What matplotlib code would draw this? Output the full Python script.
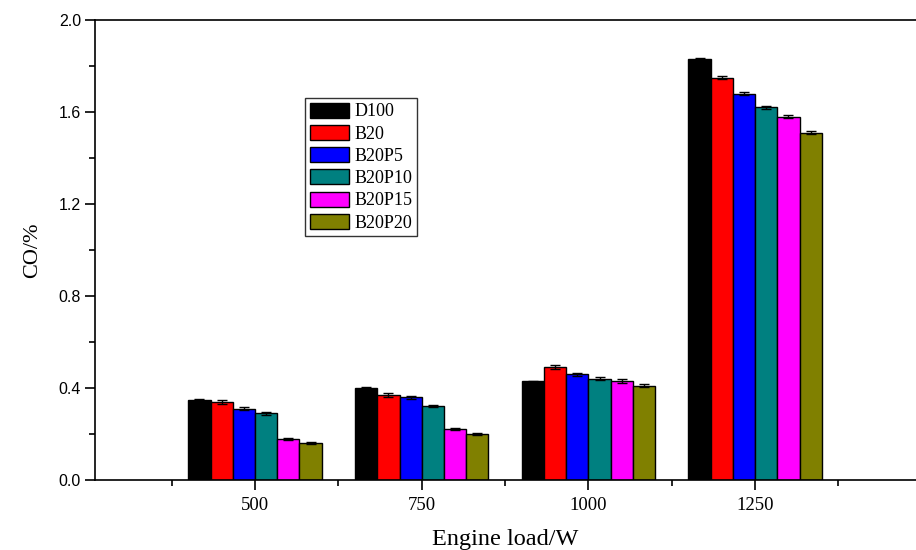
import matplotlib
matplotlib.use("Agg")
import matplotlib.pyplot as plt
import numpy as np
from matplotlib.ticker import MultipleLocator, FixedLocator

loads = ["500", "750", "1000", "1250"]
fuels = ["D100", "B20", "B20P5", "B20P10", "B20P15", "B20P20"]
colors = ["#000000", "#FF0000", "#0000FF", "#008080", "#FF00FF", "#808000"]

# CO emission (%) for each fuel at each engine load
d100 = [0.35, 0.40, 0.43, 1.83]
b20 = [0.34, 0.37, 0.49, 1.75]
b20p5 = [0.31, 0.36, 0.46, 1.68]
b20p10 = [0.29, 0.32, 0.44, 1.62]
b20p15 = [0.18, 0.22, 0.43, 1.58]
b20p20 = [0.16, 0.20, 0.41, 1.51]

# standard errors
d100_err = [0.003, 0.003, 0.002, 0.003]
b20_err = [0.008, 0.007, 0.008, 0.008]
b20p5_err = [0.006, 0.007, 0.007, 0.008]
b20p10_err = [0.006, 0.004, 0.006, 0.007]
b20p15_err = [0.004, 0.004, 0.007, 0.006]
b20p20_err = [0.004, 0.004, 0.007, 0.007]

series = [d100, b20, b20p5, b20p10, b20p15, b20p20]
errors = [d100_err, b20_err, b20p5_err, b20p10_err, b20p15_err, b20p20_err]

serif = ["Liberation Serif", "DejaVu Serif"]
sans = ["Liberation Sans", "DejaVu Sans"]

fig = plt.figure(figsize=(9.16, 5.5), dpi=100)
ax = fig.add_axes([95 / 916, 1 - 480 / 550, 1 - 95 / 916, 460 / 550])

x = np.arange(1, len(loads) + 1)
width = 0.8 / len(fuels)
for i, (vals, errs, c, name) in enumerate(zip(series, errors, colors, fuels)):
    pos = x - 0.4 + width * (i + 0.5)
    ax.bar(pos, vals, width, color=c, edgecolor="black", linewidth=1.0,
           label=name, zorder=2)
    ax.errorbar(pos, vals, yerr=errs, fmt="none", ecolor="black",
                elinewidth=1.0, capsize=3.5, capthick=1.0, zorder=3)

ax.set_xlim(0.04, 4.965)
ax.set_ylim(0, 2.0)

ax.set_xticks(x)
ax.set_xticklabels(loads, fontfamily=serif, fontsize=13.5)
ax.xaxis.set_minor_locator(FixedLocator(np.arange(0.5, 5.0, 1.0)))
ax.yaxis.set_major_locator(MultipleLocator(0.4))
ax.yaxis.set_minor_locator(MultipleLocator(0.2))
ax.set_yticks(np.arange(0, 2.01, 0.4))
ax.set_yticklabels([f"{v:.1f}" for v in np.arange(0, 2.01, 0.4)],
                   fontfamily=sans, fontsize=11.5)

ax.tick_params(axis="both", which="major", direction="out", length=7, width=1.2)
ax.tick_params(axis="both", which="minor", direction="out", length=4, width=1.2)
ax.tick_params(axis="x", pad=5)
ax.tick_params(axis="y", pad=3)

for s in ["left", "bottom", "top"]:
    ax.spines[s].set_linewidth(1.2)
ax.spines["right"].set_visible(False)

ax.set_xlabel("Engine load/W", fontfamily=serif, fontsize=17.5, labelpad=11)
ax.set_ylabel("CO/%", fontfamily=serif, fontsize=16, labelpad=12)

leg = ax.legend(loc="upper left", bbox_to_anchor=(0.256, 0.830), borderaxespad=0,
                prop={"family": serif, "size": 13}, frameon=True, fancybox=False,
                handlelength=2.2, handleheight=0.9, handletextpad=0.3,
                labelspacing=0.25, borderpad=0.25)
leg.get_frame().set_edgecolor("black")
leg.get_frame().set_linewidth(1.0)

fig.savefig("out.png", dpi=100)
